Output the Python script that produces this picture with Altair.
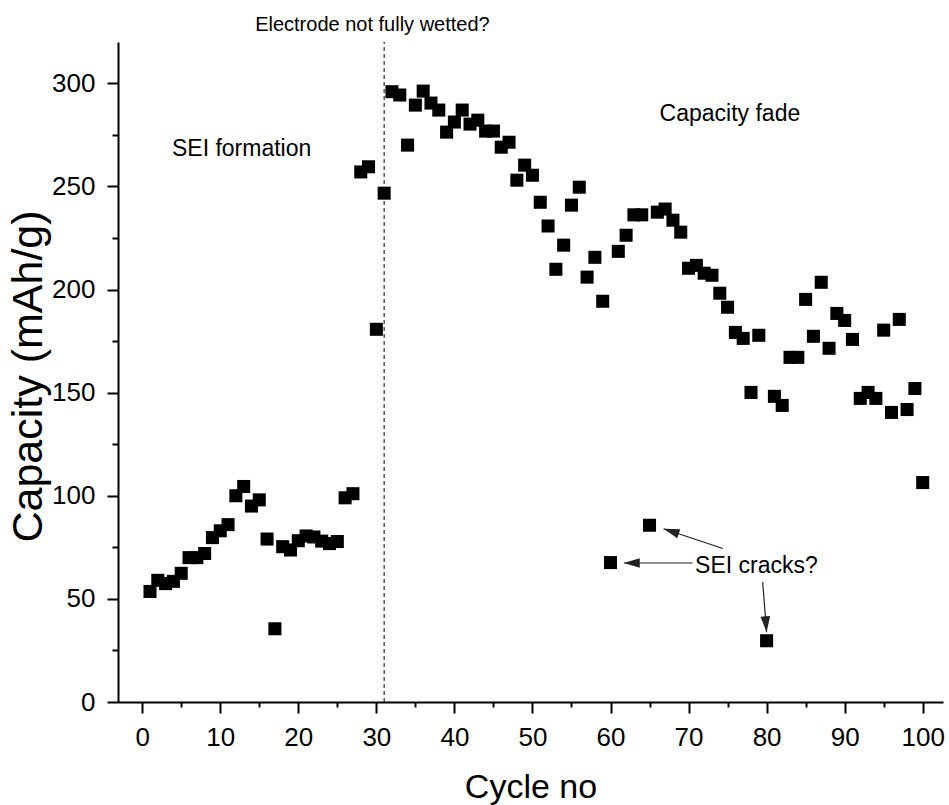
import altair as alt
import pandas as pd

# ---- data ----
cycles = list(range(1, 101))
capacity = [
    53.6, 59.0, 57.4, 58.5, 62.4, 70.0, 70.0, 72.0, 79.7, 83.0,
    86.0, 100.0, 104.5, 95.0, 98.0, 79.0, 35.5, 75.3, 73.7, 78.2,
    80.5, 80.0, 78.0, 76.8, 77.8, 99.0, 101.0, 257.0, 259.5, 180.7,
    246.7, 295.9, 294.3, 270.0, 289.4, 296.2, 290.4, 287.0, 276.3, 281.2,
    287.0, 280.2, 282.1, 276.8, 276.8, 269.0, 271.4, 253.0, 260.3, 255.4,
    242.3, 230.8, 209.8, 221.5, 240.9, 249.6, 206.0, 215.6, 194.3, 67.6,
    218.5, 226.3, 236.2, 236.2, 85.7, 237.5, 239.0, 233.6, 227.8, 210.3,
    211.7, 207.9, 206.9, 198.2, 191.4, 179.2, 176.3, 150.1, 177.8, 29.7,
    148.2, 143.8, 167.1, 167.1, 195.2, 177.3, 203.5, 171.5, 188.4, 185.0,
    175.8, 147.2, 150.1, 147.2, 180.3, 140.4, 185.5, 141.8, 152.0, 106.4,
]

x_ticks = list(range(0, 101, 5))
y_ticks = list(range(0, 301, 25))

marker_cycle = [31]

ann_text = ["Electrode not fully wetted?", "SEI formation", "Capacity fade", "SEI cracks?"]
ann_x = [29.5, 12.74, 75.3, 78.7]
ann_y = [325.5, 264.8, 281.7, 62.7]
ann_size = [20, 23, 23, 23]

arrow_x0 = [74.4, 70.5, 79.5]
arrow_y0 = [74.4, 67.4, 58.1]
arrow_x1 = [66.8, 61.7, 80.0]
arrow_y1 = [84.0, 67.4, 33.8]
arrow_angle = [288.4, 270.0, 175.5]

FONT = "Liberation Sans"

pts = pd.DataFrame({"x": cycles, "y": capacity})
vline = pd.DataFrame({"x": marker_cycle, "y": [0], "y2": [320]})
ann = pd.DataFrame({"x": ann_x, "y": ann_y, "label": ann_text, "size": ann_size})
arrows = pd.DataFrame({"x": arrow_x0, "y": arrow_y0, "x2": arrow_x1, "y2": arrow_y1})
heads = pd.DataFrame({"x": arrow_x1, "y": arrow_y1, "angle": arrow_angle})

xs = alt.Scale(domain=[-3.1, 102.6], nice=False, zero=False)
ys = alt.Scale(domain=[0, 320], nice=False, zero=False)

x_axis = alt.Axis(
    values=x_ticks,
    title="Cycle no",
    titleFontSize=34,
    titleFont=FONT,
    titleFontWeight="normal",
    titleColor="black",
    titleY=95,
    titleBaseline="alphabetic",
    labelFont=FONT,
    labelFontSize=26,
    labelColor="black",
    labelPadding=11,
    labelExpr="datum.value % 10 === 0 ? datum.label : ''",
    labelFlush=False,
    labelOverlap=False,
    tickSize={"condition": {"test": "datum.value % 10 === 0", "value": 11}, "value": 5},
    tickWidth=2,
    tickColor="black",
    domainColor="black",
    domainWidth=2,
    grid=False,
)

y_axis = alt.Axis(
    values=y_ticks,
    title="Capacity (mAh/g)",
    titleFontSize=43,
    titleFont=FONT,
    titleFontWeight="normal",
    titleColor="black",
    titleAngle=270,
    titleAlign="center",
    titleBaseline="middle",
    titleX=-90,
    titleY=334,
    labelFont=FONT,
    labelFontSize=26,
    labelColor="black",
    labelPadding=12,
    labelExpr="datum.value % 50 === 0 ? datum.label : ''",
    labelFlush=False,
    labelOverlap=False,
    tickSize={"condition": {"test": "datum.value % 50 === 0", "value": 11}, "value": 6},
    tickWidth=2,
    tickColor="black",
    domainColor="black",
    domainWidth=2,
    grid=False,
)

points = alt.Chart(pts).mark_square(size=170, color="black", opacity=1).encode(
    x=alt.X("x:Q", scale=xs, axis=x_axis),
    y=alt.Y("y:Q", scale=ys, axis=y_axis),
)

dashed = alt.Chart(vline).mark_rule(color="black", strokeWidth=1, strokeDash=[4, 3]).encode(
    x=alt.X("x:Q", scale=xs),
    y=alt.Y("y:Q", scale=ys),
    y2="y2:Q",
)

texts = alt.Chart(ann).mark_text(
    font=FONT, color="black", align="center", baseline="alphabetic"
).encode(
    x=alt.X("x:Q", scale=xs),
    y=alt.Y("y:Q", scale=ys),
    text="label:N",
    size=alt.Size("size:Q", scale=None, legend=None),
)

arrow_lines = alt.Chart(arrows).mark_rule(color="#222222", strokeWidth=1.2).encode(
    x=alt.X("x:Q", scale=xs),
    y=alt.Y("y:Q", scale=ys),
    x2="x2:Q",
    y2="y2:Q",
)

arrow_heads = alt.Chart(heads).mark_point(
    shape="M0,0L0.6,2L-0.6,2Z", size=256, filled=True, color="#222222", opacity=1
).encode(
    x=alt.X("x:Q", scale=xs),
    y=alt.Y("y:Q", scale=ys),
    angle=alt.Angle("angle:Q", scale=None),
)

chart = alt.layer(points, dashed, texts, arrow_lines, arrow_heads).properties(
    width=825,
    height=660,
    padding={"left": 118, "top": 42, "right": 6, "bottom": 103},
    autosize=alt.AutoSizeParams(type="none"),
    background="white",
).configure_view(stroke=None)

chart.save("out.html", embed_options={"renderer": "svg", "actions": False})
